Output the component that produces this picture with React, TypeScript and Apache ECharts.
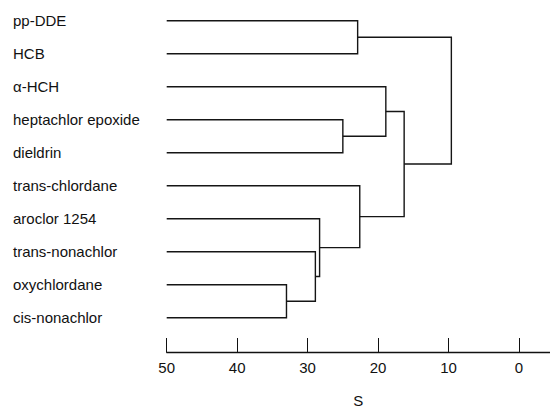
import React, { useEffect, useRef } from "react";
import * as echarts from "echarts";

// Leaf names, top to bottom
const leaves = [
  "pp-DDE",
  "HCB",
  "α-HCH",
  "heptachlor epoxide",
  "dieldrin",
  "trans-chlordane",
  "aroclor 1254",
  "trans-nonachlor",
  "oxychlordane",
  "cis-nonachlor",
];
// Merges: children indices (0-9 = leaves, 10+k = merge k) and similarity S at which they join
const mergeLeft = [0, 3, 2, 8, 7, 6, 5, 12, 10];
const mergeRight = [1, 4, 11, 9, 13, 14, 15, 16, 17];
const mergeHeight = [22.9, 25.0, 18.9, 33.0, 28.9, 28.3, 22.6, 16.3, 9.6];
const leafHeight = 50;
const sTicks = [50, 40, 30, 20, 10, 0];

const FONT = "'Liberation Sans', Arial, Helvetica, sans-serif";

export default function App() {
  const ref = useRef<HTMLDivElement>(null);
  useEffect(() => {
    if (!ref.current) return;
    const chart = echarts.init(ref.current, null, { renderer: "svg" });

    const nodeY: number[] = leaves.map((_, i) => i);
    const nodeH: number[] = leaves.map(() => leafHeight);
    const data: number[][] = [];
    mergeHeight.forEach((h, k) => {
      const a = mergeLeft[k];
      const b = mergeRight[k];
      data.push([nodeH[a], nodeY[a], h, nodeY[b], nodeH[b]]);
      nodeY.push((nodeY[a] + nodeY[b]) / 2);
      nodeH.push(h);
    });

    chart.setOption({
      animation: false,
      backgroundColor: "#ffffff",
      grid: {
        left: 166.7,
        right: 0,
        top: 20.7,
        bottom: 90.3,
        containLabel: false,
        outerBoundsMode: "none",
      },
      xAxis: {
        type: "value",
        inverse: true,
        min: -4.4,
        max: 50,
        position: "bottom",
        offset: 34.3,
        name: "S",
        nameLocation: "middle",
        nameGap: 41,
        nameTextStyle: { fontFamily: FONT, fontSize: 15, lineHeight: 15, color: "#111" },
        axisLine: { show: true, onZero: false, lineStyle: { color: "#111", width: 1.3 } },
        axisTick: {
          show: true,
          inside: true,
          length: 14,
          customValues: sTicks,
          lineStyle: { color: "#111", width: 1 },
        },
        axisLabel: {
          customValues: sTicks,
          margin: 8,
          fontFamily: FONT,
          fontSize: 15,
          color: "#111",
        },
        splitLine: { show: false },
      },
      yAxis: {
        type: "value",
        inverse: true,
        min: 0,
        max: leaves.length - 1,
        interval: 1,
        axisLine: { show: false },
        axisTick: { show: false },
        splitLine: { show: false },
        axisLabel: {
          align: "left",
          margin: 153.7,
          fontFamily: FONT,
          fontSize: 15,
          color: "#111",
          formatter: (v: number) => leaves[Math.round(v)] ?? "",
        },
      },
      series: [
        {
          type: "custom",
          data,
          dimensions: ["x1", "y1", "xm", "y2", "x2"],
          encode: { x: [0, 2, 4], y: [1, 3] },
          clip: false,
          renderItem: (_params: any, api: any) => {
            const p1 = api.coord([api.value(0), api.value(1)]);
            const p2 = api.coord([api.value(2), api.value(1)]);
            const p3 = api.coord([api.value(2), api.value(3)]);
            const p4 = api.coord([api.value(4), api.value(3)]);
            return {
              type: "polyline",
              shape: { points: [p1, p2, p3, p4] },
              style: { stroke: "#151515", lineWidth: 1.4, fill: null },
            };
          },
        },
      ],
    });
    return () => chart.dispose();
  }, []);
  return (
    <div
      ref={ref}
      style={{ position: "absolute", left: 0, top: 0, width: 550, height: 408 }}
    />
  );
}
